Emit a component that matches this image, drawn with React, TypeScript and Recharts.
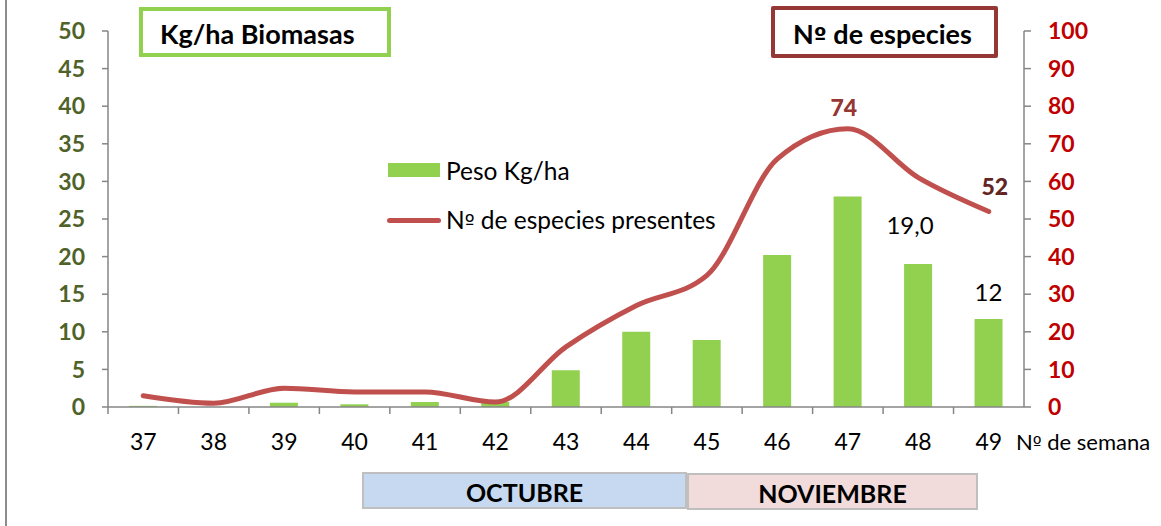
import React from "react";
import { ComposedChart, Bar, Line, XAxis, YAxis, LabelList } from "recharts";

const weeks = ["37", "38", "39", "40", "41", "42", "43", "44", "45", "46", "47", "48", "49"];
const pesoKgHa = [0.15, 0, 0.57, 0.36, 0.66, 0.66, 4.9, 10.0, 8.9, 20.2, 28.0, 19.0, 11.7];
const numEspecies = [3, 1, 5, 4, 4, 1.3, 16, 27, 35, 66, 74, 61, 52];
const pesoLabels = ["", "", "", "", "", "", "", "", "", "", "", "19,0", "12"];
const especiesLabels = ["", "", "", "", "", "", "", "", "", "", "74", "", "52"];
const leftTicks = [0, 5, 10, 15, 20, 25, 30, 35, 40, 45, 50];
const rightTicks = [0, 10, 20, 30, 40, 50, 60, 70, 80, 90, 100];
const months = ["OCTUBRE", "NOVIEMBRE"];
const seriesNames = ["Peso Kg/ha", "Nº de especies presentes"];
const axisTitles = ["Kg/ha Biomasas", "Nº de especies", "Nº de semana"];

const data = weeks.map((w, i) => ({
  week: w,
  peso: pesoKgHa[i],
  especies: numEspecies[i],
  pesoLabel: pesoLabels[i],
  especiesLabel: especiesLabels[i],
}));

const FONT = "Lato, 'Open Sans', sans-serif";
const W = 1161;
const H = 526;
const PLOT_LEFT = 108;
const PLOT_RIGHT = 1024;
const PLOT_TOP = 31;
const PLOT_BOTTOM = 407;
const BAND = (PLOT_RIGHT - PLOT_LEFT) / weeks.length;
const GRAY = "#868686";
const GREEN = "#92d050";
const RED = "#c0504d";

// render "º" with a font whose ordinal indicator is underlined
const withOrdinal = (s: string) =>
  s.split("º").flatMap((part, i, arr) =>
    i < arr.length - 1
      ? [part, <span key={i} style={{ fontFamily: "'DejaVu Sans', 'Noto Sans', sans-serif", fontSize: "0.85em" }}>º</span>]
      : [part]
  );

const XTick = (props: any) => {
  const { x, y, payload } = props;
  return (
    <g>
      <line x1={x - BAND / 2} x2={x - BAND / 2} y1={y} y2={y + 7} stroke={GRAY} strokeWidth={1.5} />
      <text x={x} y={y + 43} textAnchor="middle" fontSize={23} fill="#000" fontFamily={FONT}>
        {payload.value}
      </text>
    </g>
  );
};

const BarLabel = (props: any) => {
  const { x, y, width, value } = props;
  if (!value) return null;
  const big = value.length > 2;
  const lift = big ? 30 : 18;
  const shift = big ? -8 : 0;
  return (
    <text x={x + width / 2 + shift} y={y - lift} textAnchor="middle" fontSize={24} fill="#000" fontFamily={FONT}>
      {value}
    </text>
  );
};

const LineLabel = (props: any) => {
  const { x, y, value } = props;
  if (!value) return null;
  const last = value === especiesLabels[especiesLabels.length - 1];
  return (
    <text
      x={x + (last ? 6 : -4)}
      y={y - (last ? 16 : 13)}
      textAnchor="middle"
      fontSize={23}
      fontWeight="900"
      fill={last ? "#632523" : "#953735"}
      fontFamily={FONT}
    >
      {value}
    </text>
  );
};

export default function App() {
  return (
    <div style={{ position: "absolute", left: 0, top: 0, width: W, height: H, background: "#fff", fontFamily: FONT }}>
      <div style={{ position: "absolute", left: 5, top: 0, width: 2, height: H, background: "#8c8c8c" }} />
      <ComposedChart
        width={W}
        height={H}
        data={data}
        margin={{ top: PLOT_TOP, right: 0, bottom: H - PLOT_BOTTOM - 30, left: 0 }}
      >
        <XAxis
          dataKey="week"
          height={30}
          interval={0}
          tickSize={0}
          tickMargin={0}
          tickLine={false}
          axisLine={{ stroke: GRAY, strokeWidth: 1.5 }}
          tick={<XTick />}
        />
        <YAxis
          yAxisId="left"
          orientation="left"
          width={PLOT_LEFT}
          domain={[0, 50]}
          ticks={leftTicks}
          interval={0}
          tickSize={6}
          tickMargin={17}
          axisLine={{ stroke: GRAY, strokeWidth: 1.5 }}
          tickLine={{ stroke: GRAY, strokeWidth: 1.5 }}
          tick={{ fill: "#4f6228", fontSize: 23, fontWeight: "bold", fontFamily: FONT }}
        />
        <YAxis
          yAxisId="right"
          orientation="right"
          width={W - PLOT_RIGHT}
          domain={[0, 100]}
          ticks={rightTicks}
          interval={0}
          tickSize={7}
          tickMargin={17}
          axisLine={{ stroke: GRAY, strokeWidth: 1.5 }}
          tickLine={{ stroke: GRAY, strokeWidth: 1.5 }}
          tick={{ fill: "#c00000", fontSize: 23, fontWeight: "bold", fontFamily: FONT, textAnchor: "start" }}
        />
        <Bar yAxisId="left" dataKey="peso" fill={GREEN} barSize={28} isAnimationActive={false}>
          <LabelList dataKey="pesoLabel" content={<BarLabel />} />
        </Bar>
        <Line
          yAxisId="right"
          type="monotone"
          dataKey="especies"
          stroke={RED}
          strokeWidth={5}
          strokeLinecap="round"
          dot={false}
          activeDot={false}
          isAnimationActive={false}
        >
          <LabelList dataKey="especiesLabel" content={<LineLabel />} />
        </Line>
      </ComposedChart>

      {/* Title boxes */}
      <div
        style={{
          position: "absolute", left: 139, top: 7, width: 244, height: 42,
          border: `4px solid ${GREEN}`, boxSizing: "content-box",
          fontSize: 27, fontWeight: "bold", color: "#000", lineHeight: "46px",
        }}
      >
        <span style={{ position: "absolute", left: 17, whiteSpace: "nowrap" }}>{withOrdinal(axisTitles[0])}</span>
      </div>
      <div
        style={{
          position: "absolute", left: 771, top: 6, width: 219, height: 44,
          border: "4px solid #953735", borderRadius: 2, boxSizing: "content-box",
          fontSize: 27, fontWeight: "bold", color: "#000", lineHeight: "48px",
        }}
      >
        <span style={{ position: "absolute", left: 18, whiteSpace: "nowrap" }}>{withOrdinal(axisTitles[1])}</span>
      </div>

      {/* Legend */}
      <div style={{ position: "absolute", left: 388, top: 163, width: 52, height: 14, background: GREEN }} />
      <div style={{ position: "absolute", left: 446, top: 156, fontSize: 24.5, color: "#000", lineHeight: "30px", whiteSpace: "nowrap" }}>
        {withOrdinal(seriesNames[0])}
      </div>
      <div style={{ position: "absolute", left: 387, top: 218, width: 54, height: 5, borderRadius: 3, background: RED }} />
      <div style={{ position: "absolute", left: 446, top: 205, fontSize: 24.5, color: "#000", lineHeight: "30px", whiteSpace: "nowrap" }}>
        {withOrdinal(seriesNames[1])}
      </div>

      {/* X axis title */}
      <div style={{ position: "absolute", left: 1016, top: 428, fontSize: 22, color: "#000", lineHeight: "28px", whiteSpace: "nowrap" }}>
        {withOrdinal(axisTitles[2])}
      </div>

      {/* Month boxes */}
      <div
        style={{
          position: "absolute", left: 362, top: 472, width: 321, height: 33,
          background: "#c6d9f1", border: "2px solid #bfbfbf",
          fontSize: 25, fontWeight: "bold", textAlign: "center", lineHeight: "36px", color: "#000",
        }}
      >
        {months[0]}
      </div>
      <div
        style={{
          position: "absolute", left: 687, top: 473, width: 287, height: 33,
          background: "#f2dcdb", border: "2px solid #bfbfbf",
          fontSize: 25, fontWeight: "bold", textAlign: "center", lineHeight: "36px", color: "#000",
        }}
      >
        {months[1]}
      </div>
    </div>
  );
}
